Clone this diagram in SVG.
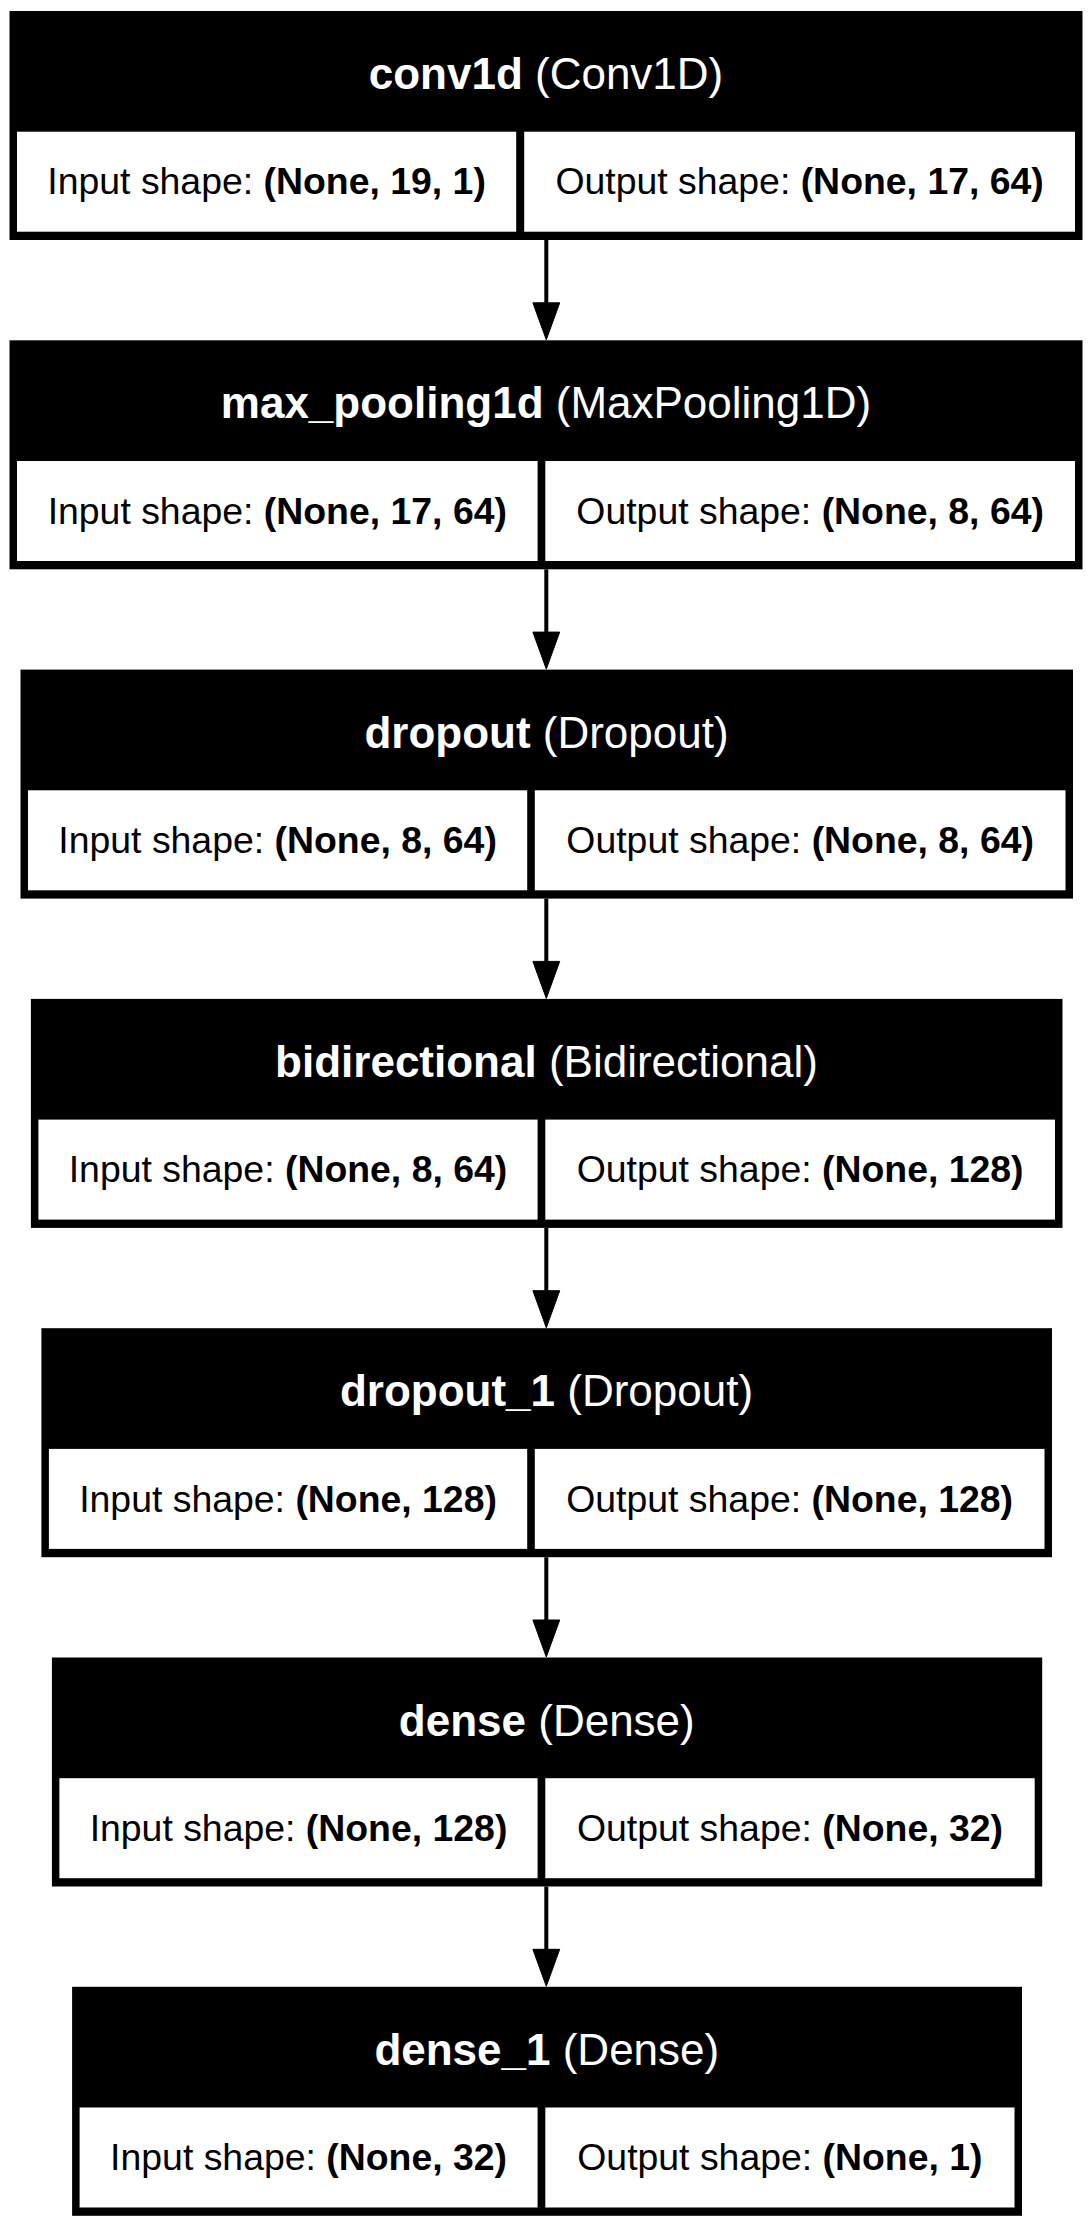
<svg xmlns="http://www.w3.org/2000/svg" width="1092" height="2226" viewBox="0 0 1092 2226">
<style>
  .frame { fill: #000; }
  .cell { fill: #fff; }
  .hdr { font-family: "Liberation Sans", Arial, Helvetica, sans-serif; font-size: 44px; fill: #fff; text-anchor: middle; }
  .body { font-family: "Liberation Sans", Arial, Helvetica, sans-serif; font-size: 37.4px; fill: #000; text-anchor: middle; }
  .b { font-weight: bold; }
  .edge { stroke: #000; stroke-width: 4; fill: none; }
  .head { fill: #000; stroke: #000; stroke-width: 1; }
</style>
<rect width="1092" height="2226" fill="#fff"/>

<g id="connectors">
  <path class="edge" d="M546.3,240 V303.3"/>
  <polygon class="head" points="532.9,302.8 559.7,302.8 546.3,339.8"/>
  <path class="edge" d="M546.3,569.3 V632.6"/>
  <polygon class="head" points="532.9,632.1 559.7,632.1 546.3,669.1"/>
  <path class="edge" d="M546.3,898.6 V961.9"/>
  <polygon class="head" points="532.9,961.4 559.7,961.4 546.3,998.4"/>
  <path class="edge" d="M546.3,1227.9 V1291.2"/>
  <polygon class="head" points="532.9,1290.7 559.7,1290.7 546.3,1327.7"/>
  <path class="edge" d="M546.3,1557.2 V1620.5"/>
  <polygon class="head" points="532.9,1620 559.7,1620 546.3,1657"/>
  <path class="edge" d="M546.3,1886.5 V1949.8"/>
  <polygon class="head" points="532.9,1949.3 559.7,1949.3 546.3,1986.3"/>
</g>

<g id="conv1d">
  <rect class="frame" x="9.5" y="11" width="1073" height="229"/>
  <rect class="cell" x="17" y="131.7" width="499.2" height="100"/>
  <rect class="cell" x="524.2" y="131.7" width="550.8" height="100"/>
  <text class="hdr" x="546" y="89"><tspan class="b">conv1d</tspan> (Conv1D)</text>
  <text class="body" x="266.6" y="194.3">Input shape: <tspan class="b">(None, 19, 1)</tspan></text>
  <text class="body" x="799.6" y="194.3">Output shape: <tspan class="b">(None, 17, 64)</tspan></text>
</g>

<g id="max_pooling1d">
  <rect class="frame" x="9.5" y="340.3" width="1073" height="229"/>
  <rect class="cell" x="17" y="461" width="520.6" height="100"/>
  <rect class="cell" x="545.3" y="461" width="529.7" height="100"/>
  <text class="hdr" x="546" y="418.3"><tspan class="b">max_pooling1d</tspan> (MaxPooling1D)</text>
  <text class="body" x="277.3" y="523.6">Input shape: <tspan class="b">(None, 17, 64)</tspan></text>
  <text class="body" x="810.15" y="523.6">Output shape: <tspan class="b">(None, 8, 64)</tspan></text>
</g>

<g id="dropout">
  <rect class="frame" x="20.5" y="669.6" width="1052.5" height="229"/>
  <rect class="cell" x="28" y="790.3" width="499.2" height="100"/>
  <rect class="cell" x="534.8" y="790.3" width="530.7" height="100"/>
  <text class="hdr" x="546.5" y="747.6"><tspan class="b">dropout</tspan> (Dropout)</text>
  <text class="body" x="277.6" y="852.9">Input shape: <tspan class="b">(None, 8, 64)</tspan></text>
  <text class="body" x="800.15" y="852.9">Output shape: <tspan class="b">(None, 8, 64)</tspan></text>
</g>

<g id="bidirectional">
  <rect class="frame" x="30.9" y="998.9" width="1031.6" height="229"/>
  <rect class="cell" x="38.4" y="1119.6" width="499.2" height="100"/>
  <rect class="cell" x="545.3" y="1119.6" width="509.7" height="100"/>
  <text class="hdr" x="546.5" y="1076.9"><tspan class="b">bidirectional</tspan> (Bidirectional)</text>
  <text class="body" x="288" y="1182.2">Input shape: <tspan class="b">(None, 8, 64)</tspan></text>
  <text class="body" x="800.15" y="1182.2">Output shape: <tspan class="b">(None, 128)</tspan></text>
</g>

<g id="dropout_1">
  <rect class="frame" x="41.4" y="1328.2" width="1010.6" height="229"/>
  <rect class="cell" x="48.9" y="1448.9" width="478.3" height="100"/>
  <rect class="cell" x="534.8" y="1448.9" width="509.7" height="100"/>
  <text class="hdr" x="546.5" y="1406.2"><tspan class="b">dropout_1</tspan> (Dropout)</text>
  <text class="body" x="288.05" y="1511.5">Input shape: <tspan class="b">(None, 128)</tspan></text>
  <text class="body" x="789.65" y="1511.5">Output shape: <tspan class="b">(None, 128)</tspan></text>
</g>

<g id="dense">
  <rect class="frame" x="51.9" y="1657.5" width="990.3" height="229"/>
  <rect class="cell" x="59.4" y="1778.2" width="478.2" height="100"/>
  <rect class="cell" x="545.3" y="1778.2" width="489.4" height="100"/>
  <text class="hdr" x="546.8" y="1735.5"><tspan class="b">dense</tspan> (Dense)</text>
  <text class="body" x="298.5" y="1840.8">Input shape: <tspan class="b">(None, 128)</tspan></text>
  <text class="body" x="790" y="1840.8">Output shape: <tspan class="b">(None, 32)</tspan></text>
</g>

<g id="dense_1">
  <rect class="frame" x="72.1" y="1986.8" width="949.9" height="229"/>
  <rect class="cell" x="79.6" y="2107.5" width="458" height="100"/>
  <rect class="cell" x="545.3" y="2107.5" width="469.2" height="100"/>
  <text class="hdr" x="546.8" y="2064.8"><tspan class="b">dense_1</tspan> (Dense)</text>
  <text class="body" x="308.6" y="2170.1">Input shape: <tspan class="b">(None, 32)</tspan></text>
  <text class="body" x="779.9" y="2170.1">Output shape: <tspan class="b">(None, 1)</tspan></text>
</g>
</svg>
